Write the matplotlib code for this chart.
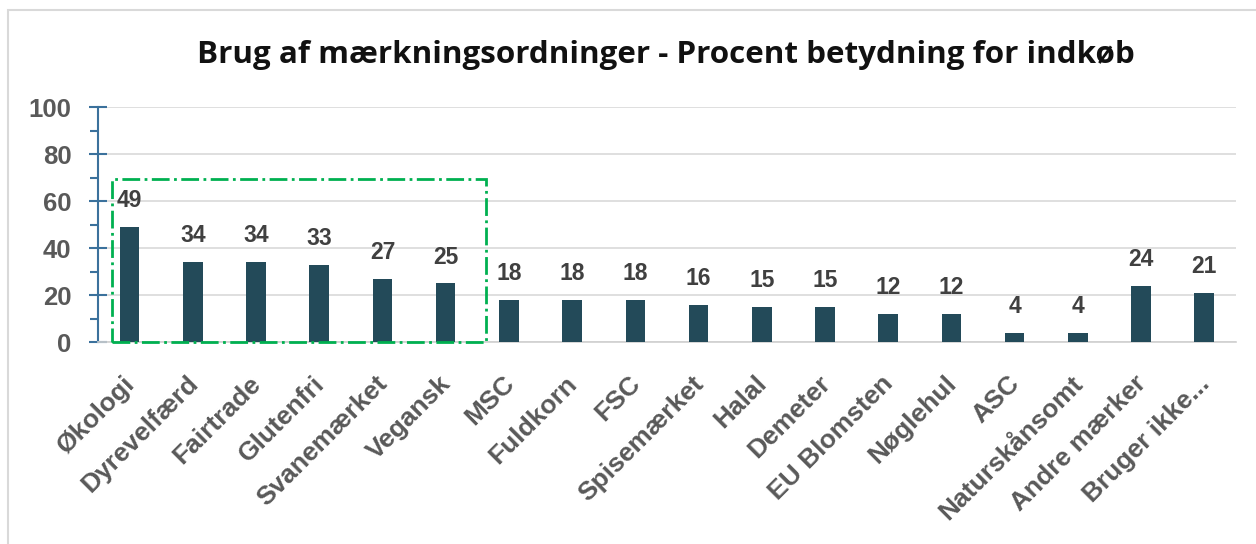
#bar chart of label schemes (mærkningsordninger) - percent importance for purchases
import matplotlib
matplotlib.use("Agg")
import matplotlib.pyplot as plt
import matplotlib.transforms as mtrans
from matplotlib.patches import Rectangle
from matplotlib.ticker import MultipleLocator

categories = ["Økologi", "Dyrevelfærd", "Fairtrade", "Glutenfri", "Svanemærket", "Vegansk",
              "MSC", "Fuldkorn", "FSC", "Spisemærket", "Halal", "Demeter", "EU Blomsten",
              "Nøglehul", "ASC", "Naturskånsomt", "Andre mærker", "Bruger ikke..."]
values = [49, 34, 34, 33, 27, 25, 18, 18, 18, 16, 15, 15, 12, 12, 4, 4, 24, 21]
title = "Brug af mærkningsordninger - Procent betydning for indkøb"

bar_color = "#234a59"
label_gray = "#595959"
spine_blue = "#3b719c"

fig = plt.figure(figsize=(12.56, 5.44), dpi=100)
ax = fig.add_axes([0.078, 0.371, 0.906, 0.432])

x = list(range(len(categories)))
ax.bar(x, values, width=0.31, color=bar_color, zorder=3)
for xi, v in zip(x, values):
  ax.text(xi, v + 6.3, str(v), ha="center", va="bottom", fontsize=16.5,
          fontweight="bold", color="#404040", family="Liberation Sans")

ax.set_xlim(-0.5, len(categories) - 0.5)
ax.set_ylim(0, 100)
ax.yaxis.set_major_locator(MultipleLocator(20))
ax.yaxis.set_minor_locator(MultipleLocator(10))
ax.grid(axis="y", color="#d9d9d9", linewidth=1.2, zorder=0)

for s in ["top", "right"]:
  ax.spines[s].set_visible(False)
ax.spines["left"].set_color(spine_blue)
ax.spines["left"].set_linewidth(1.5)
ax.spines["bottom"].set_color("#d0d0d0")
ax.spines["bottom"].set_linewidth(1.2)

ax.tick_params(axis="y", which="major", direction="inout", length=13, width=1.5,
               color=spine_blue, labelsize=18.5, labelcolor=label_gray, pad=12.5)
ax.tick_params(axis="y", which="minor", direction="out", length=6, width=1.5, color=spine_blue)
ax.tick_params(axis="x", length=0, pad=21)
for lbl in ax.get_yticklabels():
  lbl.set_fontweight("bold")
  lbl.set_family("Liberation Sans")

ax.set_xticks(x)
ax.set_xticklabels(categories, rotation=45, ha="right", rotation_mode="anchor",
                   fontsize=19, fontweight="bold", color=label_gray, family="Liberation Sans")
shift = mtrans.ScaledTranslation(-7 / 100, 0, fig.dpi_scale_trans) #nudge the labels left a bit
for lbl in ax.get_xticklabels():
  lbl.set_transform(lbl.get_transform() + shift)

#green dash-dot box round the top six
ax.add_patch(Rectangle((-0.28, 0), 5.92, 69.5, fill=False, edgecolor="#00b050",
                       linestyle="-.", linewidth=2, zorder=4, clip_on=False))

fig.text(0.53, 0.898, title, ha="center", va="center", fontsize=22.6,
         fontweight="bold", color="#111111", family="Open Sans")

#light frame round the chart area
fig.add_artist(Rectangle((8 / 1256, -0.01), 1.02, 1 - 10 / 544 + 0.01, transform=fig.transFigure,
                         fill=False, edgecolor="#d9d9d9", linewidth=1.5))

plt.savefig("out.png", dpi=100)
